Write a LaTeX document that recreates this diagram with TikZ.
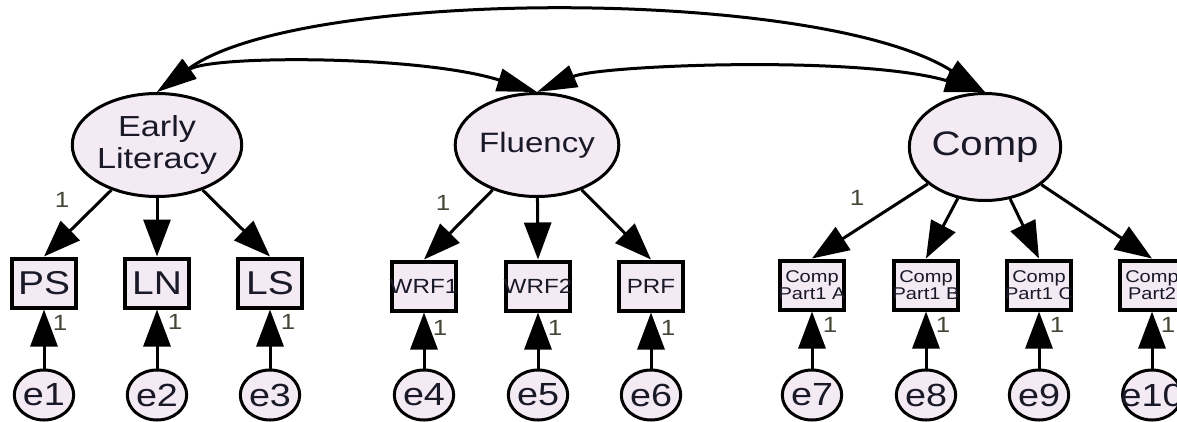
\documentclass[tikz,border=0pt]{standalone}
\usepackage{fontspec}
\newfontfamily\af[FakeStretch=1.18]{Liberation Sans}
\usetikzlibrary{arrows.meta,shapes.geometric}
\definecolor{fillc}{RGB}{244,234,244}
\definecolor{onec}{RGB}{70,70,55}
\definecolor{txtc}{RGB}{25,25,40}
\begin{document}
\begin{tikzpicture}[x=1pt,y=-1pt,
  lat/.style={ellipse, draw, line width=3pt, fill=fillc, minimum width=135pt, minimum height=103pt, inner sep=0pt, align=center, text=txtc},
  ind/.style={rectangle, draw, line width=4pt, fill=fillc, minimum width=64pt, minimum height=49pt, inner sep=0pt, align=center, text=txtc},
  errc/.style={ellipse, draw, line width=3pt, fill=fillc, minimum width=59pt, minimum height=50pt, inner sep=0pt, text=txtc, font=\af\fontsize{32}{32}\selectfont},
  loadarr/.style={line width=3pt, -{Triangle[length=37pt,width=27pt]}},
  covarr/.style={line width=3pt, {Triangle[length=40pt,width=23pt]}-{Triangle[length=40pt,width=23pt]}},
  onelbl/.style={font=\af\fontsize{22}{22}\selectfont, text=onec, inner sep=0pt},
  bigtxt/.style={font=\af\fontsize{33}{33}\selectfont},
  midtxt/.style={font=\af\fontsize{20.5}{20.5}\selectfont},
  smalltxt/.style={font=\af\fontsize{17}{17}\selectfont}
]
\useasboundingbox (0,0) rectangle (1177,421);
\clip (0,0) rectangle (1177,421);

% latent variables
\node[lat, font=\af\fontsize{29}{32}\selectfont] (EL) at (157,145) {Early\\Literacy};
\node[lat, font=\af\fontsize{28}{32}\selectfont] (FL) at (537,145) {Fluency};
\node[lat, font=\af\fontsize{34}{36}\selectfont, minimum height=107pt] (CO) at (985,147) {Comp};

% indicators
\node[ind, bigtxt] (PS) at (44,283) {PS};
\node[ind, bigtxt] (LN) at (157,283) {LN};
\node[ind, bigtxt] (LS) at (270,283) {LS};
\node[ind, midtxt] (W1) at (424,286) {\makebox[0pt]{WRF1}};
\node[ind, midtxt] (W2) at (538,286) {\makebox[0pt]{WRF2}};
\node[ind, midtxt] (PR) at (651,286) {\makebox[0pt]{PRF}};
\node[ind, smalltxt] (CA) at (812,285) {\makebox[0pt]{Comp}\\\makebox[0pt]{Part1 A}};
\node[ind, smalltxt] (CB) at (926,285) {\makebox[0pt]{Comp}\\\makebox[0pt]{Part1 B}};
\node[ind, smalltxt] (CC) at (1039,285) {\makebox[0pt]{Comp}\\\makebox[0pt]{Part1 C}};
\node[ind, smalltxt] (CD) at (1152,285) {\makebox[0pt]{Comp}\\\makebox[0pt]{Part2}};

% error terms
\node[errc] (e1) at (44,395) {e1};
\node[errc] (e2) at (157,395) {e2};
\node[errc] (e3) at (270,395) {e3};
\node[errc] (e4) at (424,395) {e4};
\node[errc] (e5) at (538,395) {e5};
\node[errc] (e6) at (651,395) {e6};
\node[errc] (e7) at (812,395) {e7};
\node[errc] (e8) at (926,395) {e8};
\node[errc] (e9) at (1039,395) {e9};
\node[errc] (e10) at (1152,395) {\makebox[0pt]{e10}};

% loadings
\foreach \a/\b in {EL/PS,EL/LN,EL/LS,FL/W1,FL/W2,FL/PR,CO/CA,CO/CB,CO/CC,CO/CD}
  \draw[loadarr] (\a) -- (\b.north);
\foreach \a/\b in {e1/PS,e2/LN,e3/LS,e4/W1,e5/W2,e6/PR,e7/CA,e8/CB,e9/CC,e10/CD}
  \draw[loadarr] (\a) -- (\b);

% covariances
\draw[covarr] (EL.north) .. controls (300,-13) and (820,-13) .. (CO.north);
\draw[covarr] (EL.north) .. controls (210,55) and (420,55) .. (FL.north);
\draw[covarr] (FL.north) .. controls (600,65) and (860,55) .. (CO.north);

% "1" labels
\node[onelbl] (l1) at (62,200) {1};
\node[onelbl] (l2) at (443,203) {1};
\node[onelbl] (l3) at (857,198) {1};
\node[onelbl] (m1) at (60,323) {1};
\node[onelbl] (m2) at (175,322) {1};
\node[onelbl] (m3) at (288,322) {1};
\node[onelbl] (m4) at (440,328) {1};
\node[onelbl] (m5) at (555,328) {1};
\node[onelbl] (m6) at (668,328) {1};
\node[onelbl] (m7) at (830,325) {1};
\node[onelbl] (m8) at (943,325) {1};
\node[onelbl] (m9) at (1057,325) {1};
\node[onelbl] (m10) at (1168,325) {1};
\end{tikzpicture}
\end{document}
